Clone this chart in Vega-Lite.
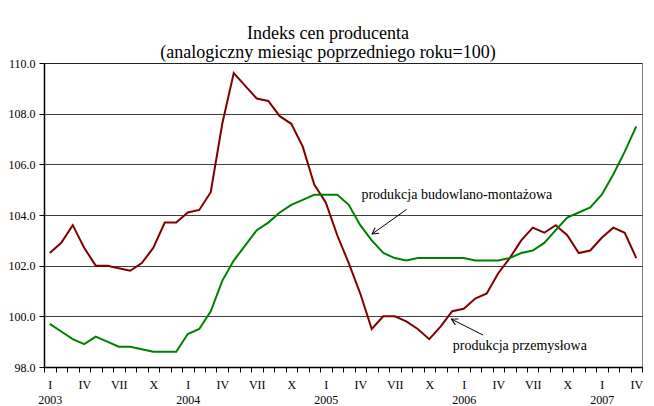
{
  "$schema": "https://vega.github.io/schema/vega-lite/v6.json",
  "autosize": {"type": "none"},
  "padding": {"left": 44, "top": 63, "right": 12, "bottom": 39},
  "width": 598,
  "height": 304,
  "background": "white",
  "config": {
    "font": "Liberation Serif",
    "view": {"stroke": "#808080", "strokeWidth": 1},
    "axis": {"labelFont": "Liberation Serif", "labelColor": "#000", "domainColor": "#000", "tickColor": "#000"}
  },
  "title": {
    "text": ["Indeks cen producenta", "(analogiczny miesiąc poprzedniego roku=100)"],
    "font": "Liberation Serif",
    "fontSize": 18,
    "fontWeight": "normal",
    "color": "#000",
    "lineHeight": 19,
    "offset": -5,
    "dx": -15,
    "anchor": "middle"
  },
  "datasets": {
    "series": [
      {"m": 0, "s": "przem", "v": 102.5}, {"m": 1, "s": "przem", "v": 102.9}, {"m": 2, "s": "przem", "v": 103.6}, {"m": 3, "s": "przem", "v": 102.7},
      {"m": 4, "s": "przem", "v": 102.0}, {"m": 5, "s": "przem", "v": 102.0}, {"m": 6, "s": "przem", "v": 101.9}, {"m": 7, "s": "przem", "v": 101.8},
      {"m": 8, "s": "przem", "v": 102.1}, {"m": 9, "s": "przem", "v": 102.7}, {"m": 10, "s": "przem", "v": 103.7}, {"m": 11, "s": "przem", "v": 103.7},
      {"m": 12, "s": "przem", "v": 104.1}, {"m": 13, "s": "przem", "v": 104.2}, {"m": 14, "s": "przem", "v": 104.9}, {"m": 15, "s": "przem", "v": 107.6},
      {"m": 16, "s": "przem", "v": 109.6}, {"m": 17, "s": "przem", "v": 109.1}, {"m": 18, "s": "przem", "v": 108.6}, {"m": 19, "s": "przem", "v": 108.5},
      {"m": 20, "s": "przem", "v": 107.9}, {"m": 21, "s": "przem", "v": 107.6}, {"m": 22, "s": "przem", "v": 106.7}, {"m": 23, "s": "przem", "v": 105.2},
      {"m": 24, "s": "przem", "v": 104.5}, {"m": 25, "s": "przem", "v": 103.2}, {"m": 26, "s": "przem", "v": 102.1}, {"m": 27, "s": "przem", "v": 100.9},
      {"m": 28, "s": "przem", "v": 99.5}, {"m": 29, "s": "przem", "v": 100.0}, {"m": 30, "s": "przem", "v": 100.0}, {"m": 31, "s": "przem", "v": 99.8},
      {"m": 32, "s": "przem", "v": 99.5}, {"m": 33, "s": "przem", "v": 99.1}, {"m": 34, "s": "przem", "v": 99.6}, {"m": 35, "s": "przem", "v": 100.2},
      {"m": 36, "s": "przem", "v": 100.3}, {"m": 37, "s": "przem", "v": 100.7}, {"m": 38, "s": "przem", "v": 100.9}, {"m": 39, "s": "przem", "v": 101.7},
      {"m": 40, "s": "przem", "v": 102.3}, {"m": 41, "s": "przem", "v": 103.0}, {"m": 42, "s": "przem", "v": 103.5}, {"m": 43, "s": "przem", "v": 103.3},
      {"m": 44, "s": "przem", "v": 103.6}, {"m": 45, "s": "przem", "v": 103.2}, {"m": 46, "s": "przem", "v": 102.5}, {"m": 47, "s": "przem", "v": 102.6},
      {"m": 48, "s": "przem", "v": 103.1}, {"m": 49, "s": "przem", "v": 103.5}, {"m": 50, "s": "przem", "v": 103.3}, {"m": 51, "s": "przem", "v": 102.3},
      {"m": 0, "s": "bud", "v": 99.7}, {"m": 1, "s": "bud", "v": 99.4}, {"m": 2, "s": "bud", "v": 99.1}, {"m": 3, "s": "bud", "v": 98.9},
      {"m": 4, "s": "bud", "v": 99.2}, {"m": 5, "s": "bud", "v": 99.0}, {"m": 6, "s": "bud", "v": 98.8}, {"m": 7, "s": "bud", "v": 98.8},
      {"m": 8, "s": "bud", "v": 98.7}, {"m": 9, "s": "bud", "v": 98.6}, {"m": 10, "s": "bud", "v": 98.6}, {"m": 11, "s": "bud", "v": 98.6},
      {"m": 12, "s": "bud", "v": 99.3}, {"m": 13, "s": "bud", "v": 99.5}, {"m": 14, "s": "bud", "v": 100.2}, {"m": 15, "s": "bud", "v": 101.4},
      {"m": 16, "s": "bud", "v": 102.2}, {"m": 17, "s": "bud", "v": 102.8}, {"m": 18, "s": "bud", "v": 103.4}, {"m": 19, "s": "bud", "v": 103.7},
      {"m": 20, "s": "bud", "v": 104.1}, {"m": 21, "s": "bud", "v": 104.4}, {"m": 22, "s": "bud", "v": 104.6}, {"m": 23, "s": "bud", "v": 104.8},
      {"m": 24, "s": "bud", "v": 104.8}, {"m": 25, "s": "bud", "v": 104.8}, {"m": 26, "s": "bud", "v": 104.4}, {"m": 27, "s": "bud", "v": 103.6},
      {"m": 28, "s": "bud", "v": 103.0}, {"m": 29, "s": "bud", "v": 102.5}, {"m": 30, "s": "bud", "v": 102.3}, {"m": 31, "s": "bud", "v": 102.2},
      {"m": 32, "s": "bud", "v": 102.3}, {"m": 33, "s": "bud", "v": 102.3}, {"m": 34, "s": "bud", "v": 102.3}, {"m": 35, "s": "bud", "v": 102.3},
      {"m": 36, "s": "bud", "v": 102.3}, {"m": 37, "s": "bud", "v": 102.2}, {"m": 38, "s": "bud", "v": 102.2}, {"m": 39, "s": "bud", "v": 102.2},
      {"m": 40, "s": "bud", "v": 102.3}, {"m": 41, "s": "bud", "v": 102.5}, {"m": 42, "s": "bud", "v": 102.6}, {"m": 43, "s": "bud", "v": 102.9},
      {"m": 44, "s": "bud", "v": 103.4}, {"m": 45, "s": "bud", "v": 103.9}, {"m": 46, "s": "bud", "v": 104.1}, {"m": 47, "s": "bud", "v": 104.3},
      {"m": 48, "s": "bud", "v": 104.8}, {"m": 49, "s": "bud", "v": 105.6}, {"m": 50, "s": "bud", "v": 106.5}, {"m": 51, "s": "bud", "v": 107.5}
    ],
    "labels": [
      {"m": 27.1, "v": 104.79, "label": "produkcja budowlano-montażowa"},
      {"m": 35.05, "v": 98.83, "label": "produkcja przemysłowa"}
    ],
    "arrows": [
      {"m": 31.03, "v": 104.22, "m2": 28.03, "v2": 103.25},
      {"m": 37.68, "v": 99.26, "m2": 34.93, "v2": 99.89}
    ],
    "head1": [{"m": 28.03, "v": 103.25}],
    "head2": [{"m": 34.93, "v": 99.89}]
  },
  "encoding": {
    "x": {
      "field": "m", "type": "quantitative",
      "scale": {"domain": [-0.5, 51.5], "nice": false, "zero": false},
      "axis": {
        "title": null, "grid": false,
        "values": [-0.5,0.5,1.5,2.5,3.5,4.5,5.5,6.5,7.5,8.5,9.5,10.5,11.5,12.5,13.5,14.5,15.5,16.5,17.5,18.5,19.5,20.5,21.5,22.5,23.5,24.5,25.5,26.5,27.5,28.5,29.5,30.5,31.5,32.5,33.5,34.5,35.5,36.5,37.5,38.5,39.5,40.5,41.5,42.5,43.5,44.5,45.5,46.5,47.5,48.5,49.5,50.5,51.5],
        "labelExpr": "(datum.value + 0.5) % 12 == 0 ? ['I', '' + (2003 + floor((datum.value + 0.5) / 12))] : (datum.value + 0.5) % 12 == 3 ? 'IV' : (datum.value + 0.5) % 12 == 6 ? 'VII' : (datum.value + 0.5) % 12 == 9 ? 'X' : ''",
        "labelOffset": 5.75,
        "labelFontSize": 12,
        "labelLineHeight": 15,
        "labelPadding": 7,
        "labelOverlap": false,
        "labelFlush": false,
        "labelBound": false,
        "tickSize": 5,
        "tickWidth": 1,
        "domainWidth": 1.5
      }
    },
    "y": {
      "field": "v", "type": "quantitative",
      "scale": {"domain": [98, 110], "nice": false, "zero": false},
      "axis": {
        "title": null,
        "values": [98, 100, 102, 104, 106, 108, 110],
        "format": ".1f",
        "grid": true,
        "gridColor": "#000",
        "gridOpacity": 0.75,
        "gridWidth": 1,
        "labelFontSize": 12,
        "labelPadding": 4,
        "tickSize": 5,
        "domainWidth": 1.5
      }
    }
  },
  "layer": [
    {
      "data": {"name": "series"},
      "mark": {"type": "line", "strokeWidth": 2},
      "encoding": {
        "color": {"field": "s", "type": "nominal", "legend": null,
          "scale": {"domain": ["przem", "bud"], "range": ["#800000", "#008000"]}}
      }
    },
    {
      "data": {"name": "labels"},
      "mark": {"type": "text", "align": "left", "baseline": "middle", "font": "Liberation Serif", "fontSize": 14, "color": "#000"},
      "encoding": {"text": {"field": "label"}}
    },
    {
      "data": {"name": "arrows"},
      "mark": {"type": "rule", "color": "#000", "strokeWidth": 1},
      "encoding": {"x2": {"field": "m2"}, "y2": {"field": "v2"}}
    },
    {
      "data": {"name": "head1"},
      "mark": {"type": "point", "shape": "M-0.55,1L0,0L0.55,1", "size": 150, "angle": 234.3, "filled": false, "color": "#000", "strokeWidth": 1, "opacity": 1},
      "encoding": {}
    },
    {
      "data": {"name": "head2"},
      "mark": {"type": "point", "shape": "M-0.55,1L0,0L0.55,1", "size": 150, "angle": 296.9, "filled": false, "color": "#000", "strokeWidth": 1, "opacity": 1},
      "encoding": {}
    }
  ]
}
